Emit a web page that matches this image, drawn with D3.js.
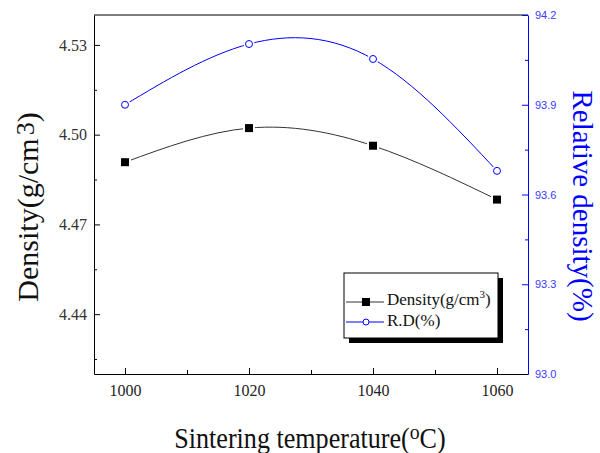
<!DOCTYPE html>
<html>
<head>
<meta charset="utf-8">
<script src="https://cdn.jsdelivr.net/npm/d3@7"></script>
<style>
  body { margin: 0; background: #fff; }
  svg { display: block; }
</style>
</head>
<body>
<svg></svg>
<script>
// data
const temps = [1000, 1020, 1040, 1060];
const density = [4.4908, 4.5022, 4.4963, 4.4783];
const relDensity = [93.9, 94.103, 94.053, 93.679];

const densityTicks = [4.44, 4.47, 4.50, 4.53];
const densityMinor = [4.425, 4.455, 4.485, 4.515];
const rdTicks = [93.0, 93.3, 93.6, 93.9, 94.2];
const rdMinor = [93.15, 93.45, 93.75, 94.05];
const tempTicks = [1000, 1020, 1040, 1060];
const tempMinor = [1010, 1030, 1050];

const width = 600, height = 453;
const margin = {top: 15, right: 72, bottom: 79, left: 94};
const serif = "'Liberation Serif', 'Times New Roman', serif";
const sans = "'Liberation Sans', Arial, sans-serif";
const blue = "#0000ff";

const x = d3.scaleLinear()
.domain([995, 1065])
.range([margin.left, width - margin.right]);

const yL = d3.scaleLinear()
.domain([4.42, 4.54])
.range([height - margin.bottom, margin.top]);

const yR = d3.scaleLinear()
.domain([93.0, 94.2])
.range([height - margin.bottom, margin.top]);

const svg = d3.select("svg")
.attr("width", width)
.attr("height", height);

const bottom = height - margin.bottom;
const right = width - margin.right;

// top frame line
svg.append("line")
.attr("x1", margin.left).attr("x2", right)
.attr("y1", margin.top).attr("y2", margin.top)
.attr("stroke", "#000");

// left axis (ticks point inside)
const gL = svg.append("g")
.attr("transform", `translate(${margin.left},0)`)
.call(d3.axisLeft(yL).tickValues(densityTicks).tickSize(-6).tickSizeOuter(0)
  .tickPadding(7).tickFormat(d3.format(".2f")));
gL.append("g")
.call(d3.axisLeft(yL).tickValues(densityMinor).tickSize(-3).tickSizeOuter(0).tickFormat(""))
.select(".domain").remove();
gL.selectAll("text")
.attr("font-family", serif)
.attr("font-size", 16)
.attr("fill", "#333");

// right axis, blue
const gR = svg.append("g")
.attr("transform", `translate(${right},0)`)
.call(d3.axisRight(yR).tickValues(rdTicks).tickSize(-6).tickSizeOuter(0)
  .tickPadding(7).tickFormat(d3.format(".1f")));
gR.append("g")
.call(d3.axisRight(yR).tickValues(rdMinor).tickSize(-3).tickSizeOuter(0).tickFormat(""))
.select(".domain").remove();
gR.selectAll("path, line").attr("stroke", blue);
gR.selectAll("text")
.attr("font-family", sans)
.attr("font-size", 11)
.attr("fill", "#3a3aff");

// bottom axis
const gB = svg.append("g")
.attr("transform", `translate(0,${bottom})`)
.call(d3.axisBottom(x).tickValues(tempTicks).tickSize(-6).tickSizeOuter(0)
  .tickPadding(11).tickFormat(d3.format("d")));
gB.append("g")
.call(d3.axisBottom(x).tickValues(tempMinor).tickSize(-4).tickSizeOuter(0).tickFormat(""))
.select(".domain").remove();
gB.selectAll("text")
.attr("font-family", serif)
.attr("font-size", 16)
.attr("fill", "#222");

// the two curves
const dens = temps.map((t, i) => ({t: t, v: density[i]}));
const rd = temps.map((t, i) => ({t: t, v: relDensity[i]}));

const lineL = d3.line().x(d => x(d.t)).y(d => yL(d.v)).curve(d3.curveNatural);
const lineR = d3.line().x(d => x(d.t)).y(d => yR(d.v)).curve(d3.curveNatural);

svg.append("path")
.attr("d", lineL(dens))
.attr("fill", "none")
.attr("stroke", "#333")
.attr("stroke-width", 1);

svg.append("path")
.attr("d", lineR(rd))
.attr("fill", "none")
.attr("stroke", blue)
.attr("stroke-width", 1);

// markers with a white gap round them, like Origin
svg.selectAll("rect.gap")
.data(dens)
.join("rect")
.attr("x", d => x(d.t) - 6)
.attr("y", d => yL(d.v) - 6)
.attr("width", 12).attr("height", 12)
.attr("fill", "#fff");

svg.selectAll("rect.sq")
.data(dens)
.join("rect")
.attr("x", d => x(d.t) - 4)
.attr("y", d => yL(d.v) - 4)
.attr("width", 8).attr("height", 8)
.attr("fill", "#000");

svg.selectAll("circle.gap")
.data(rd)
.join("circle")
.attr("cx", d => x(d.t))
.attr("cy", d => yR(d.v))
.attr("r", 5.5)
.attr("fill", "#fff");

svg.selectAll("circle.pt")
.data(rd)
.join("circle")
.attr("cx", d => x(d.t))
.attr("cy", d => yR(d.v))
.attr("r", 3.5)
.attr("fill", "#fff")
.attr("stroke", blue)
.attr("stroke-width", 1);

// legend
const leg = svg.append("g");
leg.append("rect")
.attr("x", 349).attr("y", 278).attr("width", 154).attr("height", 65)
.attr("fill", "#000");
leg.append("rect")
.attr("x", 344).attr("y", 273).attr("width", 154).attr("height", 65)
.attr("fill", "#fff").attr("stroke", "#000");

leg.append("line")
.attr("x1", 346).attr("x2", 384).attr("y1", 302).attr("y2", 302)
.attr("stroke", "#333");
leg.append("rect")
.attr("x", 362).attr("y", 298).attr("width", 8).attr("height", 8)
.attr("fill", "#000");

leg.append("line")
.attr("x1", 346).attr("x2", 384).attr("y1", 322).attr("y2", 322)
.attr("stroke", blue);
leg.append("circle")
.attr("cx", 366).attr("cy", 322).attr("r", 3)
.attr("fill", "#fff").attr("stroke", blue);

const t1 = leg.append("text")
.attr("x", 387).attr("y", 305)
.attr("font-family", serif).attr("font-size", 17).attr("fill", "#111");
t1.append("tspan").text("Density(g/cm");
t1.append("tspan").attr("dy", -7).attr("font-size", 11).text("3");
t1.append("tspan").attr("dy", 7).text(")");

leg.append("text")
.attr("x", 387).attr("y", 326)
.attr("font-family", serif).attr("font-size", 17).attr("fill", "#111")
.text("R.D(%)");

// axis titles
const tl = svg.append("text")
.attr("transform", "translate(38,207) rotate(-90)")
.attr("text-anchor", "middle")
.attr("font-family", serif).attr("font-size", 30).attr("fill", "#111");
tl.append("tspan").text("Density(g/cm");
tl.append("tspan").attr("dx", 3).attr("dy", -4).attr("font-size", 26).text("3");
tl.append("tspan").attr("dy", 4).text(")");

svg.append("text")
.attr("transform", "translate(573,206) rotate(90)")
.attr("text-anchor", "middle")
.attr("font-family", serif).attr("font-size", 29).attr("fill", blue)
.text("Relative density(%)");

const tb = svg.append("text")
.attr("transform", "translate(310,448) scale(0.9,1)")
.attr("text-anchor", "middle")
.attr("font-family", serif).attr("font-size", 29).attr("fill", "#111");
tb.append("tspan").text("Sintering temperature(");
tb.append("tspan").attr("dy", -9).attr("font-size", 22).text("o");
tb.append("tspan").attr("dy", 9).text("C)");
</script>
</body>
</html>
